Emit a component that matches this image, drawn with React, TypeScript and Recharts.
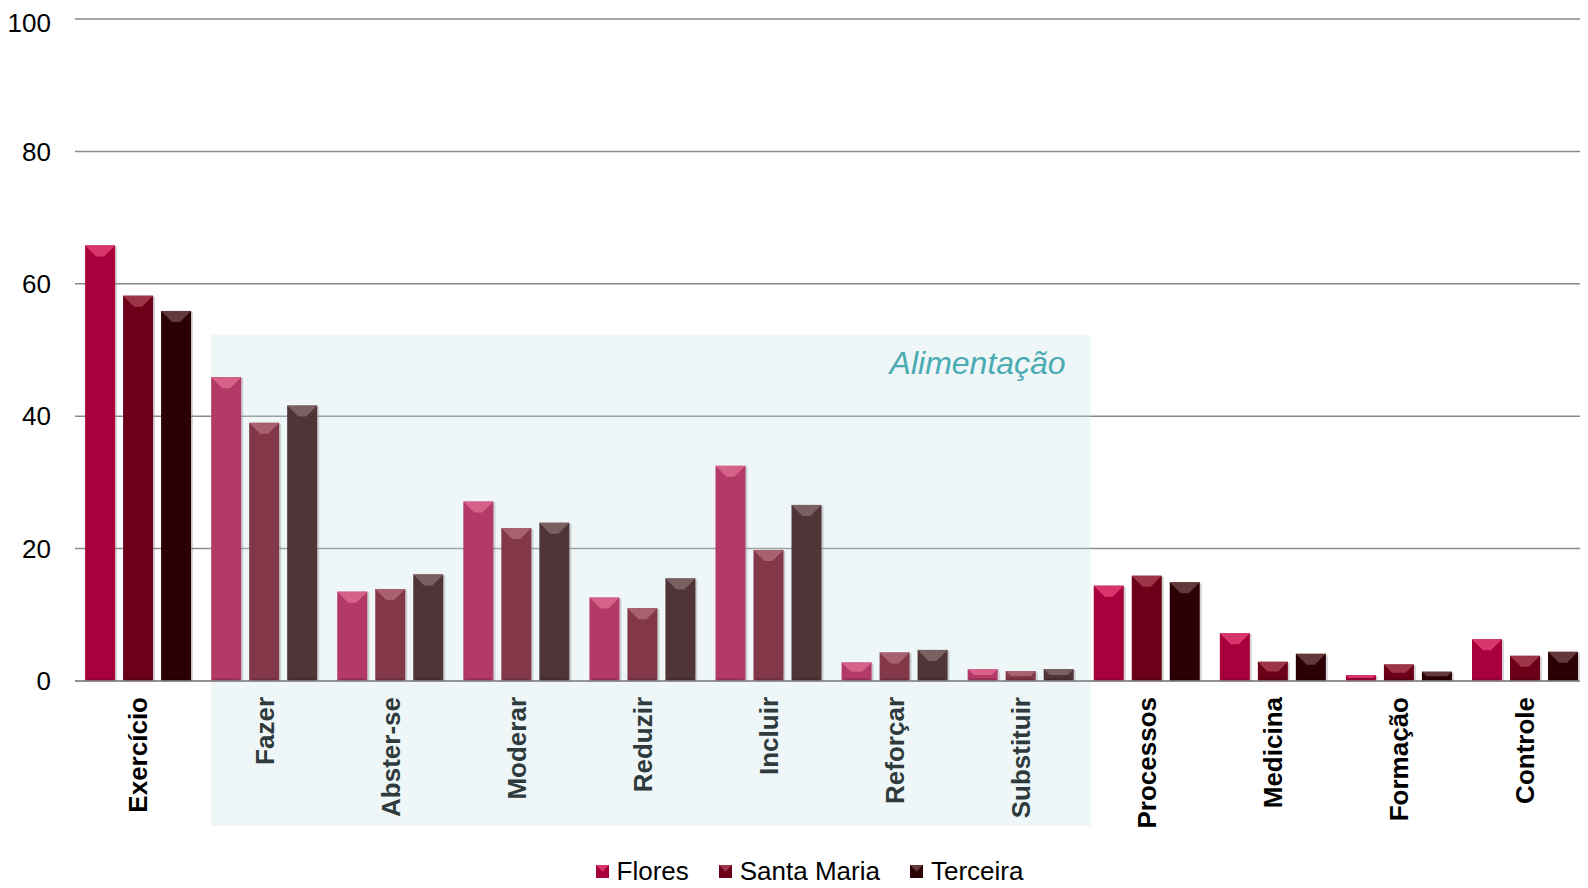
import { BarChart, Bar, XAxis, YAxis, CartesianGrid, Legend, ReferenceArea } from 'recharts'

const categories = [
  'Exercício', 'Fazer', 'Abster-se', 'Moderar', 'Reduzir', 'Incluir',
  'Reforçar', 'Substituir', 'Processos', 'Medicina', 'Formação', 'Controle',
]
const flores = [65.8, 45.9, 13.5, 27.1, 12.6, 32.5, 2.8, 1.8, 14.4, 7.2, 0.9, 6.3]
const santaMaria = [58.2, 39.0, 13.9, 23.1, 11.0, 19.8, 4.3, 1.5, 15.9, 2.9, 2.5, 3.8]
const terceira = [55.9, 41.6, 16.1, 23.9, 15.5, 26.6, 4.7, 1.8, 14.9, 4.1, 1.4, 4.4]
const alimentacao = ['Fazer', 'Abster-se', 'Moderar', 'Reduzir', 'Incluir', 'Reforçar', 'Substituir']
const yTicks = [0, 20, 40, 60, 80, 100]

const series = [
  { key: 'flores', name: 'Flores' },
  { key: 'santaMaria', name: 'Santa Maria' },
  { key: 'terceira', name: 'Terceira' },
]

// [base, top bevel] per series, normal and inside the "Alimentação" block
const colors = {
  normal: [
    ['#a8003c', '#d8356c'],
    ['#6c0018', '#9e3448'],
    ['#2c0004', '#64383a'],
  ],
  food: [
    ['#b33a67', '#d6628a'],
    ['#83384a', '#a8626f'],
    ['#4f3537', '#7a6062'],
  ],
}

const data = categories.map((name, i) => ({
  name,
  flores: flores[i],
  santaMaria: santaMaria[i],
  terceira: terceira[i],
}))

const FONT = '"Liberation Sans", Arial, sans-serif'

function makeShape(idx: number) {
  return (props: any) => {
    const { x, y, width, height, payload } = props
    if (!height || height <= 0) return <g />
    const set = alimentacao.includes(payload.name) ? colors.food : colors.normal
    const [base, top] = set[idx]
    const bev = Math.min(11, height / 2)
    return (
      <g>
        <rect x={x + 2} y={y + 1} width={width} height={height - 1} fill="#888" opacity={0.35} />
        <rect x={x} y={y} width={width} height={height} fill={base} />
        <polygon
          points={`${x},${y} ${x + width},${y} ${x + width - bev},${y + bev} ${x + bev},${y + bev}`}
          fill={top}
        />
        <polygon
          points={`${x},${y + height} ${x + width},${y + height} ${x + width - 3},${y + height - 3} ${x + 3},${y + height - 3}`}
          fill="#000"
          opacity={0.15}
        />
      </g>
    )
  }
}

function CategoryTick(props: any) {
  const { x, y, payload } = props
  const food = alimentacao.includes(payload.value)
  return (
    <g transform={`translate(${x},${y})`}>
      <text
        transform="rotate(-90)"
        x={-8}
        y={0}
        dy="0.36em"
        textAnchor="end"
        fontFamily={FONT}
        fontWeight="bold"
        fontSize={26}
        fill={food ? '#2f3a3c' : '#000'}
      >
        {payload.value}
      </text>
    </g>
  )
}

function FoodArea(props: any) {
  const { x, y, width, height } = props
  return <rect x={x + 10} y={y} width={width - 3} height={height} fill="#c6e2e5" fillOpacity={0.3} />
}

function foodLabel(props: any) {
  const vb = props.viewBox
  return (
    <text
      x={vb.x + vb.width - 18}
      y={vb.y + 39}
      textAnchor="end"
      fill="#4aabb2"
      fontSize={32}
      fontStyle="italic"
      fontFamily={FONT}
    >
      Alimentação
    </text>
  )
}

function LegendContent() {
  return (
    <div
      style={{
        display: 'flex',
        justifyContent: 'center',
        alignItems: 'center',
        height: 34,
        paddingLeft: 23,
        fontFamily: FONT,
        fontSize: 26,
        color: '#000',
      }}
    >
      {series.map((s, i) => {
        const [base, top] = colors.normal[i]
        return (
          <div key={s.key} style={{ display: 'flex', alignItems: 'center', marginRight: i < 2 ? 30 : 0 }}>
            <svg width={13} height={13} style={{ marginRight: 8 }}>
              <rect x={0} y={0} width={13} height={13} fill={base} />
              <polygon points="0,0 13,0 6.5,6.5" fill={top} />
            </svg>
            <span>{s.name}</span>
          </div>
        )
      })}
    </div>
  )
}

export default function App() {
  return (
    <div style={{ width: 1580, height: 880, overflow: 'hidden', marginBottom: -8 }}>
      <style>{'html,body{overflow:hidden}'}</style>
      <BarChart
        width={1580}
        height={880}
        data={data}
        margin={{ top: 11, right: 0, left: 0, bottom: 0 }}
        barCategoryGap="8%"
        barGap={8}
      >
        <ReferenceArea
          x1="Fazer"
          x2="Substituir"
          y1={-21.9}
          y2={52.3}
          ifOverflow="visible"
          shape={<FoodArea />}
          label={foodLabel}
        />
        <CartesianGrid vertical={false} stroke="#8a8a8a" strokeWidth={1.5} />
        <XAxis
          dataKey="name"
          interval={0}
          height={173}
          tick={<CategoryTick />}
          tickLine={false}
          axisLine={{ stroke: '#8a8a8a', strokeWidth: 1.5 }}
        />
        <YAxis
          domain={[0, 100]}
          ticks={yTicks}
          width={67}
          tickLine={false}
          axisLine={false}
          tickSize={0}
          tickMargin={24}
          tick={{ fontSize: 26, fill: '#000', fontFamily: FONT }}
        />
        <Legend verticalAlign="bottom" height={34} content={<LegendContent />} />
        {series.map((s, i) => (
          <Bar
            key={s.key}
            dataKey={s.key}
            name={s.name}
            shape={makeShape(i)}
            isAnimationActive={false}
          />
        ))}
      </BarChart>
    </div>
  )
}
